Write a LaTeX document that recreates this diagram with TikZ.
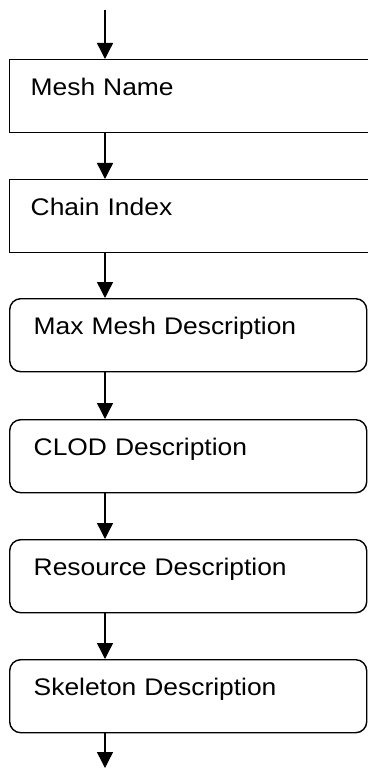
\documentclass[tikz,border=0pt]{standalone}
\usepackage{fontspec}
\setmainfont{Liberation Sans}[FakeStretch=1.1]
\usetikzlibrary{arrows.meta}

\tikzset{
	stage/.style={draw, line width=1.4pt, anchor=north west, inner ysep=0pt,
		text height=36pt, text depth=37pt, align=left, font=\fontsize{24pt}{28pt}\selectfont},
	plain/.style={stage, inner xsep=21pt, text width=360pt},
	soft/.style={stage, inner xsep=24pt, text width=309pt, rounded corners=11pt},
	flow/.style={line width=1.4pt, -{Triangle[width=16pt,length=16pt]}}
}

\begin{document}
\begin{tikzpicture}[x=1pt, y=-1pt]
		\useasboundingbox (0,0) rectangle (367,778);

		\coordinate (in) at (105,10);
		\coordinate (out) at (105,768);

		\node[plain] (meshname) at (9,59) {Mesh Name};
		\node[plain] (chain) at (9,179) {Chain Index};
		\node[soft] (maxmesh) at (9,298) {Max Mesh Description};
		\node[soft] (clod) at (9,419) {CLOD Description};
		\node[soft] (resource) at (9,539) {Resource Description};
		\node[soft] (skeleton) at (9,659) {Skeleton Description};

		\draw[flow] (in) -- (in |- meshname.north);
		\draw[flow] (meshname.south -| in) -- (chain.north -| in);
		\draw[flow] (chain.south -| in) -- (maxmesh.north -| in);
		\draw[flow] (maxmesh.south -| in) -- (clod.north -| in);
		\draw[flow] (clod.south -| in) -- (resource.north -| in);
		\draw[flow] (resource.south -| in) -- (skeleton.north -| in);
		\draw[flow] (skeleton.south -| in) -- (out);

	\end{tikzpicture}
\end{document}
